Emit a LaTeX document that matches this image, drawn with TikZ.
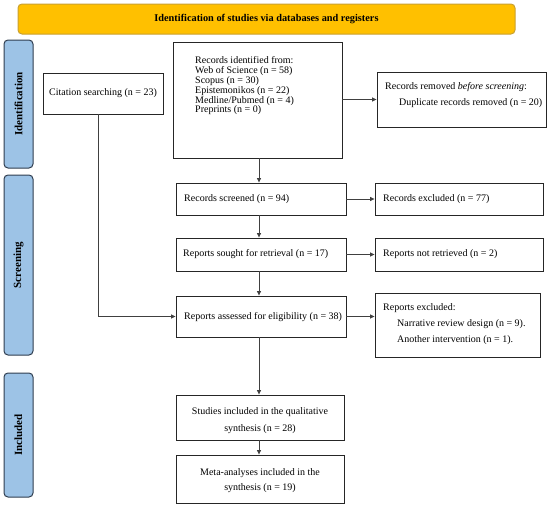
\documentclass[tikz,border=0pt]{standalone}
\usepackage{fontspec}
\setmainfont{Liberation Serif}
\usetikzlibrary{arrows.meta}
\definecolor{bannerfill}{HTML}{FFC000}
\definecolor{bannerdraw}{HTML}{C9A030}
\definecolor{sidefill}{HTML}{9DC3E6}
\definecolor{sidedraw}{HTML}{2F3D4F}
\definecolor{arrcol}{HTML}{404040}
\begin{document}
\begin{tikzpicture}[x=1pt,y=-1pt,
  box/.style={draw=black!85, line width=0.9pt, fill=white, inner sep=0pt},
  txt/.style={font=\fontsize{10}{9.8}\selectfont, inner sep=0pt, anchor=west, align=left},
  ctxt/.style={font=\fontsize{10}{16}\selectfont, inner sep=0pt, align=center},
  arr/.style={draw=arrcol, line width=0.7pt, -{Triangle[length=4.5pt,width=4pt]}},
  side/.style={draw=sidedraw, fill=sidefill, rounded corners=4pt, line width=1pt, inner sep=0pt,
    rotate=90, font=\bfseries\fontsize{11}{12}\selectfont},
  banner/.style={draw=bannerdraw, fill=bannerfill, rounded corners=4pt, line width=1pt, inner sep=0pt,
    font=\bfseries\fontsize{10.3}{12}\selectfont}
]
\useasboundingbox (0,0) rectangle (550,506);

% banner
\node[banner, minimum width=497pt, minimum height=30pt] (banner) at (266.5,19) {Identification of studies via databases and registers};

% side bars
\node[side, minimum width=128pt, minimum height=29pt] (idbar) at (18.5,104) {Identification};
\node[side, minimum width=180pt, minimum height=29pt] (scbar) at (18.5,265) {Screening};
\node[side, minimum width=124pt, minimum height=29pt] (inbar) at (18.5,435) {Included};

% boxes
\node[box, minimum width=120pt, minimum height=41pt, font=\fontsize{10}{12}\selectfont] (cite) at (103,93.5) {Citation searching (n = 23)};
\node[box, minimum width=169pt, minimum height=116pt] (ident) at (257.5,100) {};
\node[box, minimum width=169pt, minimum height=55pt] (removed) at (461.5,99.5) {};
\node[box, minimum width=170pt, minimum height=32pt] (screened) at (261,199) {};
\node[box, minimum width=168pt, minimum height=32pt] (excluded) at (459,199) {};
\node[box, minimum width=170pt, minimum height=33pt] (sought) at (261,254.5) {};
\node[box, minimum width=168pt, minimum height=33pt] (notret) at (459,254.5) {};
\node[box, minimum width=170pt, minimum height=41pt] (assessed) at (261,316.5) {};
\node[box, minimum width=165pt, minimum height=64pt] (repexcl) at (457.5,325) {};
\node[box, minimum width=168pt, minimum height=45pt] (studies) at (260,417.5) {};
\node[box, minimum width=168pt, minimum height=48pt] (meta) at (260,479) {};

% texts
\node[txt] (identT) at (195,86) {Records identified from:\\Web of Science (n = 58)\\Scopus (n = 30)\\Epistemonikos (n = 22)\\Medline/Pubmed (n = 4)\\Preprints (n = 0)};
\node[txt, font=\fontsize{10}{16}\selectfont] (removedT) at (385,95) {Records removed \textit{before screening}:\\\hspace*{14pt}Duplicate records removed (n = 20)};
\node[txt] (screenedT) at (184,199) {Records screened (n = 94)};
\node[txt] (excludedT) at (383,199) {Records excluded (n = 77)};
\node[txt] (soughtT) at (183,254.5) {Reports sought for retrieval (n = 17)};
\node[txt] (notretT) at (383,254.5) {Reports not retrieved (n = 2)};
\node[txt] (assessedT) at (184,317) {Reports assessed for eligibility (n = 38)};
\node[txt, font=\fontsize{10}{16}\selectfont] (repexclT) at (383,324) {Reports excluded:\\\hspace*{14pt}Narrative review design (n = 9).\\\hspace*{14pt}Another intervention (n = 1).};
\node[ctxt, font=\fontsize{10}{17}\selectfont] (studiesT) at (260,421) {Studies included in the qualitative\\synthesis (n = 28)};
\node[ctxt, font=\fontsize{10}{15}\selectfont] (metaT) at (260,481) {Meta-analyses included in the\\synthesis (n = 19)};

% connectors
\coordinate (vx) at (259,0);
\draw[arr] (ident.south -| vx) -- (screened.north -| vx);
\draw[arr] (screened.south -| vx) -- (sought.north -| vx);
\draw[arr] (sought.south -| vx) -- (assessed.north -| vx);
\draw[arr] (assessed.south -| vx) -- (studies.north -| vx);
\draw[arr] (studies.south -| vx) -- (meta.north -| vx);
\draw[arr] (ident.east |- removed.west) -- (removed.west);
\draw[arr] (screened.east) -- (excluded.west);
\draw[arr] (sought.east) -- (notret.west);
\draw[arr] (assessed.east) -- (assessed.east -| repexcl.west);
\draw[arr] ([xshift=-5pt]cite.south) |- (assessed.west);
\end{tikzpicture}
\end{document}
